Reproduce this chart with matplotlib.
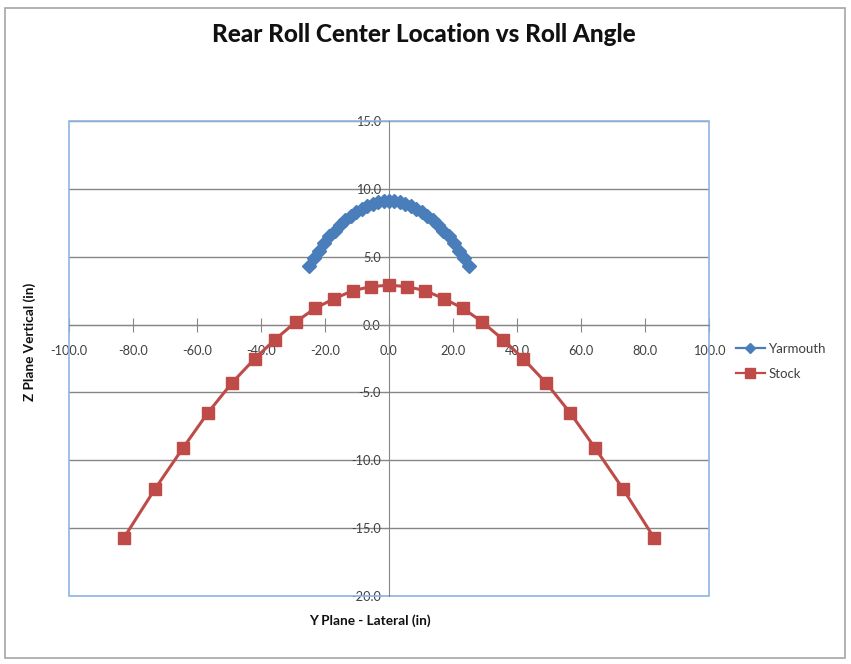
"""Rear roll center location vs roll angle (Excel-style scatter with lines)."""
import matplotlib
matplotlib.use("Agg")
import matplotlib.pyplot as plt
from matplotlib.patches import Rectangle

plt.rcParams["font.family"] = ["Lato", "DejaVu Sans"]

# Yarmouth: lateral (in) vs vertical (in)
yar_y = [-25.0, -23.4, -21.8, -20.2, -18.6, -17.0, -15.3, -13.6, -11.9, -10.2, -8.5,
         -6.8, -5.1, -3.4, -1.7, 0.0, 1.7, 3.4, 5.1, 6.8, 8.5, 10.2, 11.9, 13.6,
         15.3, 17.0, 18.6, 20.2, 21.8, 23.4, 25.0]
yar_z = [4.30, 4.90, 5.45, 6.03, 6.50, 6.92, 7.33, 7.70, 8.03, 8.31, 8.55,
         8.75, 8.90, 9.01, 9.08, 9.10, 9.08, 9.01, 8.90, 8.75, 8.55, 8.31, 8.03, 7.70,
         7.33, 6.92, 6.50, 6.03, 5.45, 4.90, 4.30]

# Stock
stock_y = [-82.8, -73.1, -64.4, -56.6, -49.1, -41.9, -35.6, -29.1, -23.1, -17.2,
           -11.3, -5.6, 0.0, 5.6, 11.3, 17.2, 23.1, 29.1, 35.6, 41.9, 49.1, 56.6,
           64.4, 73.1, 82.8]
stock_z = [-15.7, -12.1, -9.1, -6.5, -4.3, -2.5, -1.1, 0.2, 1.2, 1.9,
           2.5, 2.8, 2.9, 2.8, 2.5, 1.9, 1.2, 0.2, -1.1, -2.5, -4.3, -6.5,
           -9.1, -12.1, -15.7]

x_ticks = [-100, -80, -60, -40, -20, 0, 20, 40, 60, 80, 100]
y_ticks = [-20, -15, -10, -5, 0, 5, 10, 15]

BLUE = "#4a7ebb"
RED = "#be4b48"
AXIS = "#868686"
BORDER = "#8eb4e3"
TXT = "#404040"

W, H = 851, 664
fig = plt.figure(figsize=(W / 100, H / 100), dpi=100, facecolor="white")

# chart area frame (the Excel chart object sitting on the sheet)
fig.patches.append(Rectangle((5 / W, 1 - 658 / H), 840 / W, 650 / H,
                             transform=fig.transFigure, fill=False,
                             edgecolor="#a6a6a6", linewidth=1.2))

ax = fig.add_axes([69 / W, 1 - 596 / H, 640 / W, 475 / H])
ax.plot(yar_y, yar_z, color=BLUE, linewidth=2, marker="D", markersize=6.8,
        markerfacecolor=BLUE, markeredgecolor=BLUE, label="Yarmouth")
ax.plot(stock_y, stock_z, color=RED, linewidth=2.2, marker="s", markersize=9.2,
        markerfacecolor=RED, markeredgecolor=RED, label="Stock")

ax.set_xlim(-100, 100)
ax.set_ylim(-20, 15)
ax.set_xticks(x_ticks)
ax.set_yticks(y_ticks)
ax.set_xticklabels([f"{v:.1f}" for v in x_ticks])
ax.set_yticklabels([f"{v:.1f}" for v in y_ticks])

ax.spines["left"].set_position(("data", 0))
ax.spines["bottom"].set_position(("data", 0))
for side in ("left", "bottom"):
    ax.spines[side].set_color(AXIS)
    ax.spines[side].set_zorder(1)
for side in ("top", "right"):
    ax.spines[side].set_visible(False)
ax.add_patch(Rectangle((0, 0), 1, 1, transform=ax.transAxes, fill=False,
                       edgecolor=BORDER, linewidth=1.2, clip_on=False))

ax.grid(True, axis="y", color=AXIS, linewidth=1, zorder=0)
ax.set_axisbelow(True)
ax.tick_params(axis="x", direction="inout", length=10, color=AXIS, pad=10,
               labelsize=9.2, labelcolor=TXT)
ax.tick_params(axis="y", length=0, pad=6, labelsize=9.2, labelcolor=TXT)

fig.text(424 / W, 1 - 35 / H, "Rear Roll Center Location vs Roll Angle",
         ha="center", va="center", fontsize=17.5, fontweight="black", color="#111111")
fig.text(370 / W, 1 - 621 / H, "Y Plane - Lateral (in)", ha="center", va="center",
         fontsize=9.8, fontweight="bold", color="#111111")
fig.text(30 / W, 1 - 342 / H, "Z Plane Vertical (in)", ha="center", va="center",
         rotation=90, fontsize=9.8, fontweight="bold", color="#111111")

leg = fig.legend(loc="upper left", bbox_to_anchor=(724 / W, 1 - 331 / H), frameon=False,
                 fontsize=9.5, handlelength=2.2, labelspacing=1.0, handletextpad=0.3,
                 labelcolor=TXT, markerscale=0.75)
for line in leg.get_lines():
    line.set_linewidth(1.6)

fig.savefig("out.png", dpi=100, facecolor="white")
